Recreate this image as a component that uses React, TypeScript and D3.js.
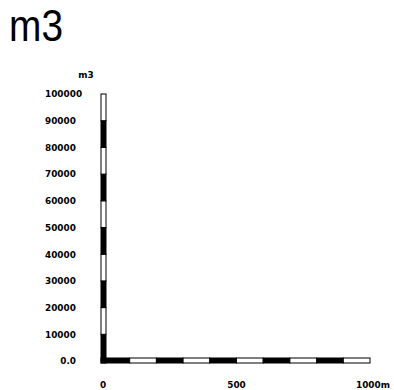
import React from 'react';
import * as d3 from 'd3';

const title = 'm3';
const yUnit = 'm3';
const yTicks = [0, 10000, 20000, 30000, 40000, 50000, 60000, 70000, 80000, 90000, 100000];
const yTickLabels = ['0.0', '10000', '20000', '30000', '40000', '50000', '60000', '70000', '80000', '90000', '100000'];
const xTicks = [0, 500, 1000];
const xTickLabels = ['0', '500', '1000m'];
const ySegments = [0, 10000, 20000, 30000, 40000, 50000, 60000, 70000, 80000, 90000];
const xSegments = [0, 100, 200, 300, 400, 500, 600, 700, 800, 900];

const W = 394;
const H = 390;

const App = () => {
  const y = d3.scaleLinear().domain([0, 100000]).range([361, 94]);
  const x = d3.scaleLinear().domain([0, 1000]).range([103, 370]);
  const labelFont = { fontFamily: 'DejaVu Sans', fontWeight: 'bold', fontSize: 8.9 } as const;

  return (
    <svg width={W} height={H} style={{ position: 'absolute', left: 0, top: 0, background: '#fff' }}>
      <text
        x={9}
        y={40.5}
        fontFamily="Liberation Sans"
        fontSize={44.5}
        textLength={54}
        lengthAdjust="spacingAndGlyphs"
      >
        {title}
      </text>
      <text x={86} y={78} textAnchor="middle" style={labelFont}>{yUnit}</text>

      {yTicks.map((t, i) => (
        <text
          key={t}
          x={yTickLabels[i] === '0.0' ? 76 : 45}
          y={y(t) + 3.3}
          textAnchor={yTickLabels[i] === '0.0' ? 'end' : 'start'}
          style={labelFont}
        >
          {yTickLabels[i]}
        </text>
      ))}

      {xTicks.map((t, i) => (
        <text key={t} x={x(t) + (i === 2 ? 3 : 0)} y={388} textAnchor="middle" style={labelFont}>
          {xTickLabels[i]}
        </text>
      ))}

      {/* vertical bar, black at the bottom */}
      {ySegments.map((s, i) => {
        const y0 = y(s + 10000);
        const y1 = i === 0 ? 363 : y(s);
        return (
          <rect
            key={'v' + s}
            x={101}
            y={y0}
            width={5}
            height={y1 - y0}
            fill={i % 2 === 0 ? '#000' : '#fff'}
            stroke="#000"
            strokeWidth={1}
          />
        );
      })}

      {/* horizontal bar, black at the left */}
      {xSegments.map((s, i) => {
        const x0 = i === 0 ? 101 : x(s);
        const x1 = x(s + 100);
        return (
          <rect
            key={'h' + s}
            x={x0}
            y={358}
            width={x1 - x0}
            height={5}
            fill={i % 2 === 0 ? '#000' : '#fff'}
            stroke="#000"
            strokeWidth={1}
          />
        );
      })}
    </svg>
  );
};

export default App;
